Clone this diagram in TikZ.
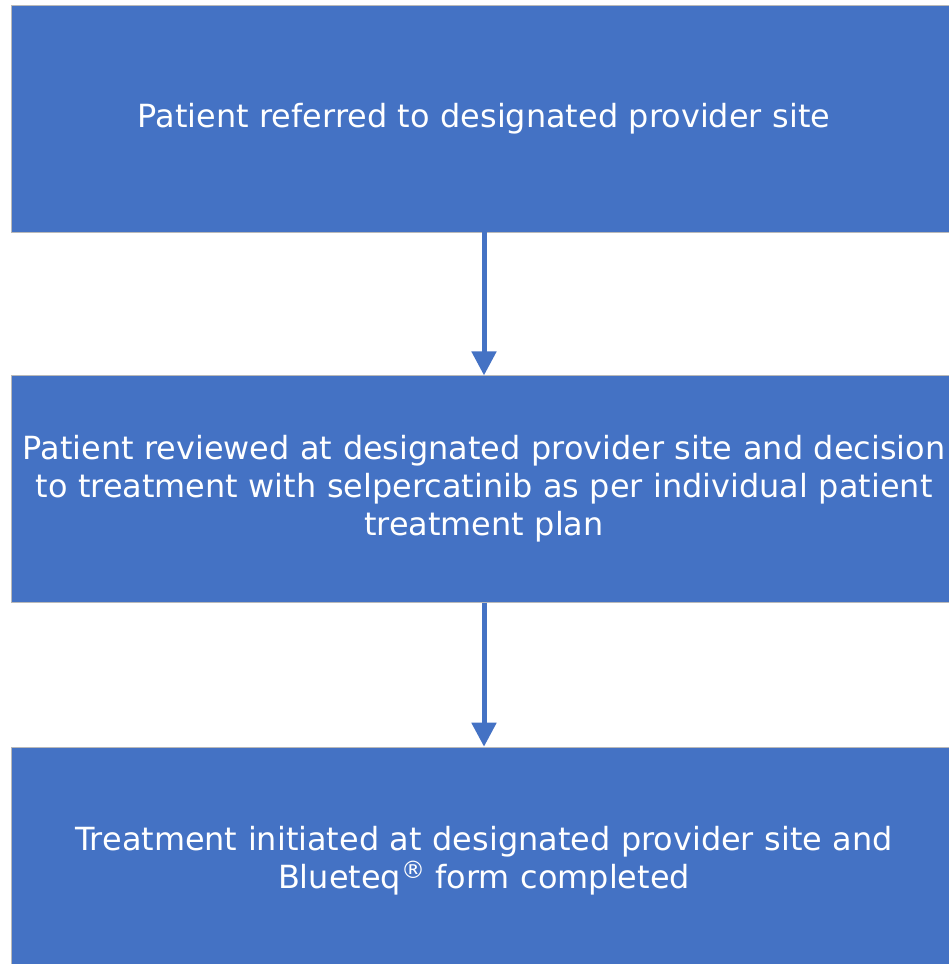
\documentclass[tikz,border=0pt]{standalone}
\usepackage{fontspec}
\setmainfont{DejaVu Sans}
\usepackage{xcolor}
\usepackage{tikz}
\usetikzlibrary{positioning}
\usetikzlibrary{arrows.meta}
\definecolor{boxblue}{RGB}{68,114,196}
\definecolor{boxline}{RGB}{185,185,185}
\tikzset{
	main node/.style={rectangle,draw=boxline,line width=0.8pt,fill=boxblue,text=white,
		minimum width=945pt,minimum height=226.5pt,text width=930pt,align=center,
		font=\fontsize{31.9}{38}\selectfont},
	flow arrow/.style={draw=boxblue,line width=5pt}
}

\begin{document}
\begin{tikzpicture}[x=1pt,y=1pt,-{Triangle[length=24pt,width=24pt]}]
		    \useasboundingbox (0,0) rectangle (949,-964);
		    \clip (0,0) rectangle (949,-964);
		    \node [main node] (1) at (484,-118.75) {Patient referred to designated provider site};
		    \node [main node,below=143pt of 1] (2) {Patient reviewed at designated provider site and decision\\
		      to treatment with selpercatinib as per individual patient\\ treatment plan};
		    \node [main node,below=144pt of 2] (3) {Treatment initiated at designated provider site and\\
		      Blueteq\raisebox{10pt}{\fontsize{24}{24}\selectfont\textregistered} form completed};
		    \draw [flow arrow] (1) -- (2);
		    \draw [flow arrow] (2) -- (3);
		  \end{tikzpicture}
\end{document}
